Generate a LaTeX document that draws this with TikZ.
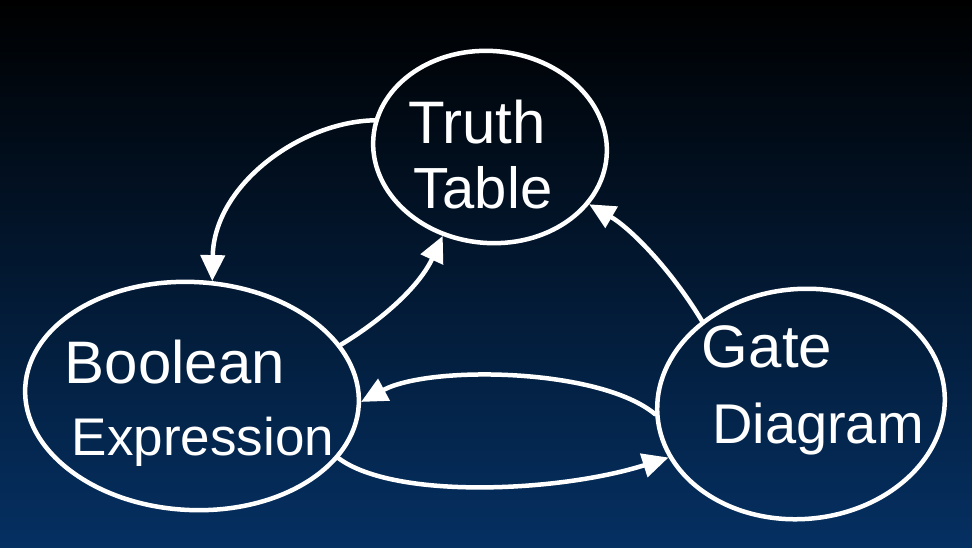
\documentclass[tikz,border=0pt]{standalone}
\usepackage{fontspec}
\setmainfont{Liberation Sans}
\usetikzlibrary{arrows.meta,shapes.geometric}
\definecolor{bgtop}{RGB}{0,0,0}
\definecolor{bgmid}{RGB}{2,18,38}
\definecolor{bgbot}{RGB}{5,48,98}
\tikzset{
  blob/.style={ellipse, draw=white, line width=4.5pt, inner sep=0pt},
  hand/.style={text=white, font=\fontsize{56}{72}\selectfont, anchor=base, inner sep=0pt},
  link/.style={draw=white, line width=4.5pt, line cap=round, -{Triangle[length=26pt,width=24pt]}}
}
\begin{document}
\begin{tikzpicture}[x=1pt,y=-1pt]
\useasboundingbox (0,0) rectangle (972,547);
\shade[top color=bgtop, middle color=bgmid, bottom color=bgbot] (0,0) rectangle (972,547);
% nodes
\node[blob, minimum width=234pt, minimum height=192pt, rotate=-5] (tt) at (490,147) {};
\node[blob, minimum width=334pt, minimum height=228pt, rotate=-3] (be) at (192,396) {};
\node[blob, minimum width=288pt, minimum height=230pt, rotate=5] (gd) at (801,404) {};
% labels
\node[hand, font=\fontsize{60}{72}\selectfont] (truth) at (477,143) {Truth};
\node[hand, font=\fontsize{58}{72}\selectfont] (table) at (483,208) {Table};
\node[hand, font=\fontsize{60}{72}\selectfont] (bool) at (175,383) {Boolean};
\node[hand, font=\fontsize{53}{72}\selectfont] (expr) at (203,455) {Expression};
\node[hand, font=\fontsize{60}{72}\selectfont] (gate) at (767,367) {Gate};
\node[hand, font=\fontsize{56}{72}\selectfont] (diag) at (818,443) {Diagram};
% connectors
\draw[link] (tt.172) .. controls (300,122) and (214,185) .. (be.83);
\draw[link] (be.22) .. controls (385,318) and (420,285) .. (tt.247);
\draw[link] (gd.135) .. controls (670,268) and (630,228) .. (tt.335);
\draw[link] (gd.179) .. controls (600,368) and (430,365) .. (be.1);
\draw[link] (be.340) .. controls (395,500) and (560,492) .. (gd.197);
\end{tikzpicture}
\end{document}
